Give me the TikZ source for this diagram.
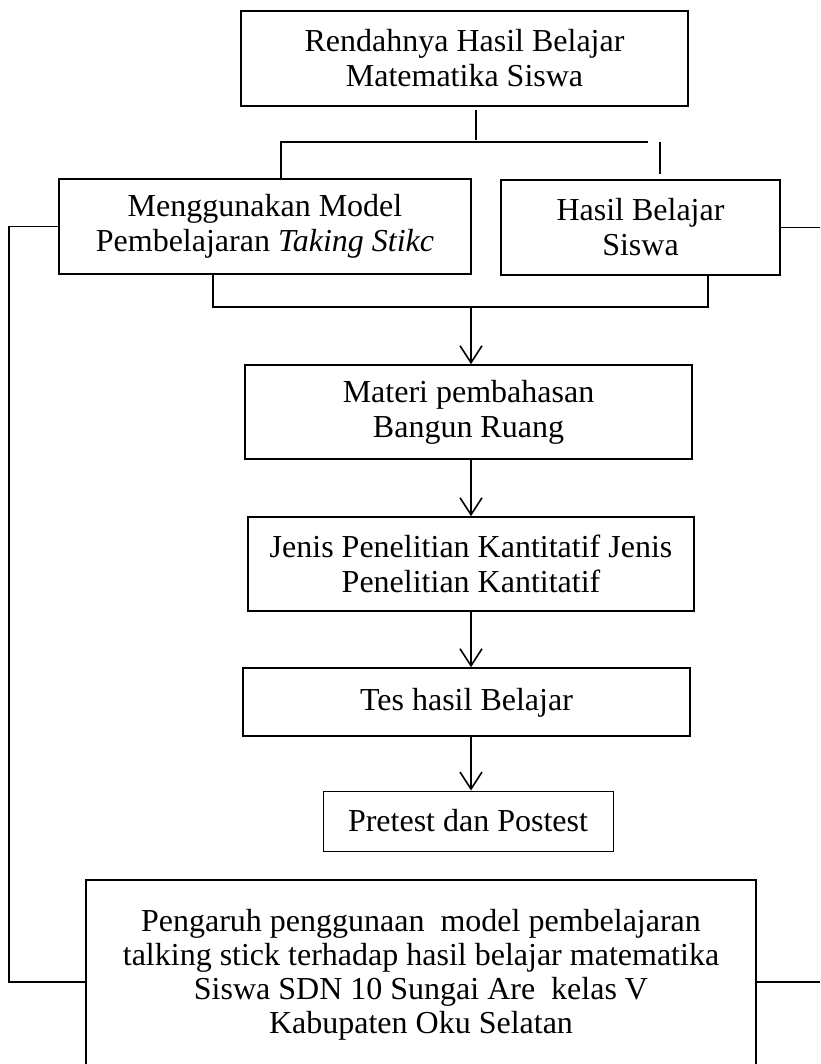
\documentclass[tikz,border=0pt]{standalone}
\usepackage{fontspec}
\setmainfont{Liberation Serif}
\usetikzlibrary{arrows.meta}

\tikzset{
  kotak/.style={draw, line width=1.6pt, inner sep=0pt, align=center,
    font=\fontsize{32}{35}\selectfont},
  panah/.style={-{Straight Barb[length=17pt,width=22pt]}, line width=1.6pt}
}

\begin{document}
\begin{tikzpicture}[x=1pt, y=-1pt, line width=1.6pt]
  \clip (0,0) rectangle (820,1064);

  % Boxes
  \node[kotak, minimum width=447pt, minimum height=95pt] (masalah) at (464.5,58.5)
    {Rendahnya Hasil Belajar\\Matematika Siswa};
  \node[kotak, minimum width=412pt, minimum height=95pt] (model) at (265,226.5)
    {Menggunakan Model\\Pembelajaran \textit{Taking Stikc}};
  \node[kotak, minimum width=279pt, minimum height=95pt] (hasil) at (640.5,227.5)
    {Hasil Belajar\\Siswa};
  \node[kotak, minimum width=447pt, minimum height=94pt] (materi) at (468.5,412)
    {Materi pembahasan\\Bangun Ruang};
  \node[kotak, minimum width=446pt, minimum height=94pt] (jenis) at (471,564)
    {Jenis Penelitian Kantitatif Jenis\\Penelitian Kantitatif};
  \node[kotak, minimum width=447pt, minimum height=68pt, text height=24pt] (tes) at (466.5,702)
    {Tes hasil Belajar};
  \node[kotak, line width=1pt, minimum width=290pt, minimum height=60pt] (prepost) at (468,821)
    {Pretest dan Postest};
  \node[kotak, minimum width=670pt, minimum height=190pt, font=\fontsize{32}{34}\selectfont] (pengaruh) at (421,975)
    {Pengaruh penggunaan~ model pembelajaran\\talking stick terhadap hasil belajar matematika\\Siswa SDN 10 Sungai Are~ kelas V\\Kabupaten Oku Selatan};

  % Helper points
  \coordinate (cabangA) at (476,110);
  \coordinate (cabangB) at (476,140);
  \coordinate (garisL) at (281,142);
  \coordinate (garisR) at (648,142);
  \coordinate (tikA) at (660,142);
  \coordinate (tikB) at (660,174);
  \coordinate (kurungL) at (213,307);
  \coordinate (kurungR) at (708,307);
  \coordinate (kurungM) at (471,307);
  \coordinate (kiri) at (9,982);
  \coordinate (kananA) at (820,227.5);
  \coordinate (kananB) at (820,982);

  % Top branch
  \draw (cabangA) -- (cabangB);
  \draw (garisR) -- (garisL) -- (garisL |- model.north);
  \draw (tikA) -- (tikB);

  % Bracket and arrows
  \draw (kurungL |- model.south) -- (kurungL) -- (kurungR) -- (kurungR |- hasil.south);
  \draw[panah] (kurungM) -- (kurungM |- materi.north);
  \draw[panah] (materi.south -| kurungM) -- (jenis.north -| kurungM);
  \draw[panah] (jenis.south -| kurungM) -- (tes.north -| kurungM);
  \draw[panah] (tes.south -| kurungM) -- (prepost.north -| kurungM);

  % Side lines
  \draw (model.west) -| (kiri) -- (kiri -| pengaruh.west);
  \draw (hasil.east) -- (kananA);
  \draw (kananB -| pengaruh.east) -- (kananB);
\end{tikzpicture}
\end{document}
